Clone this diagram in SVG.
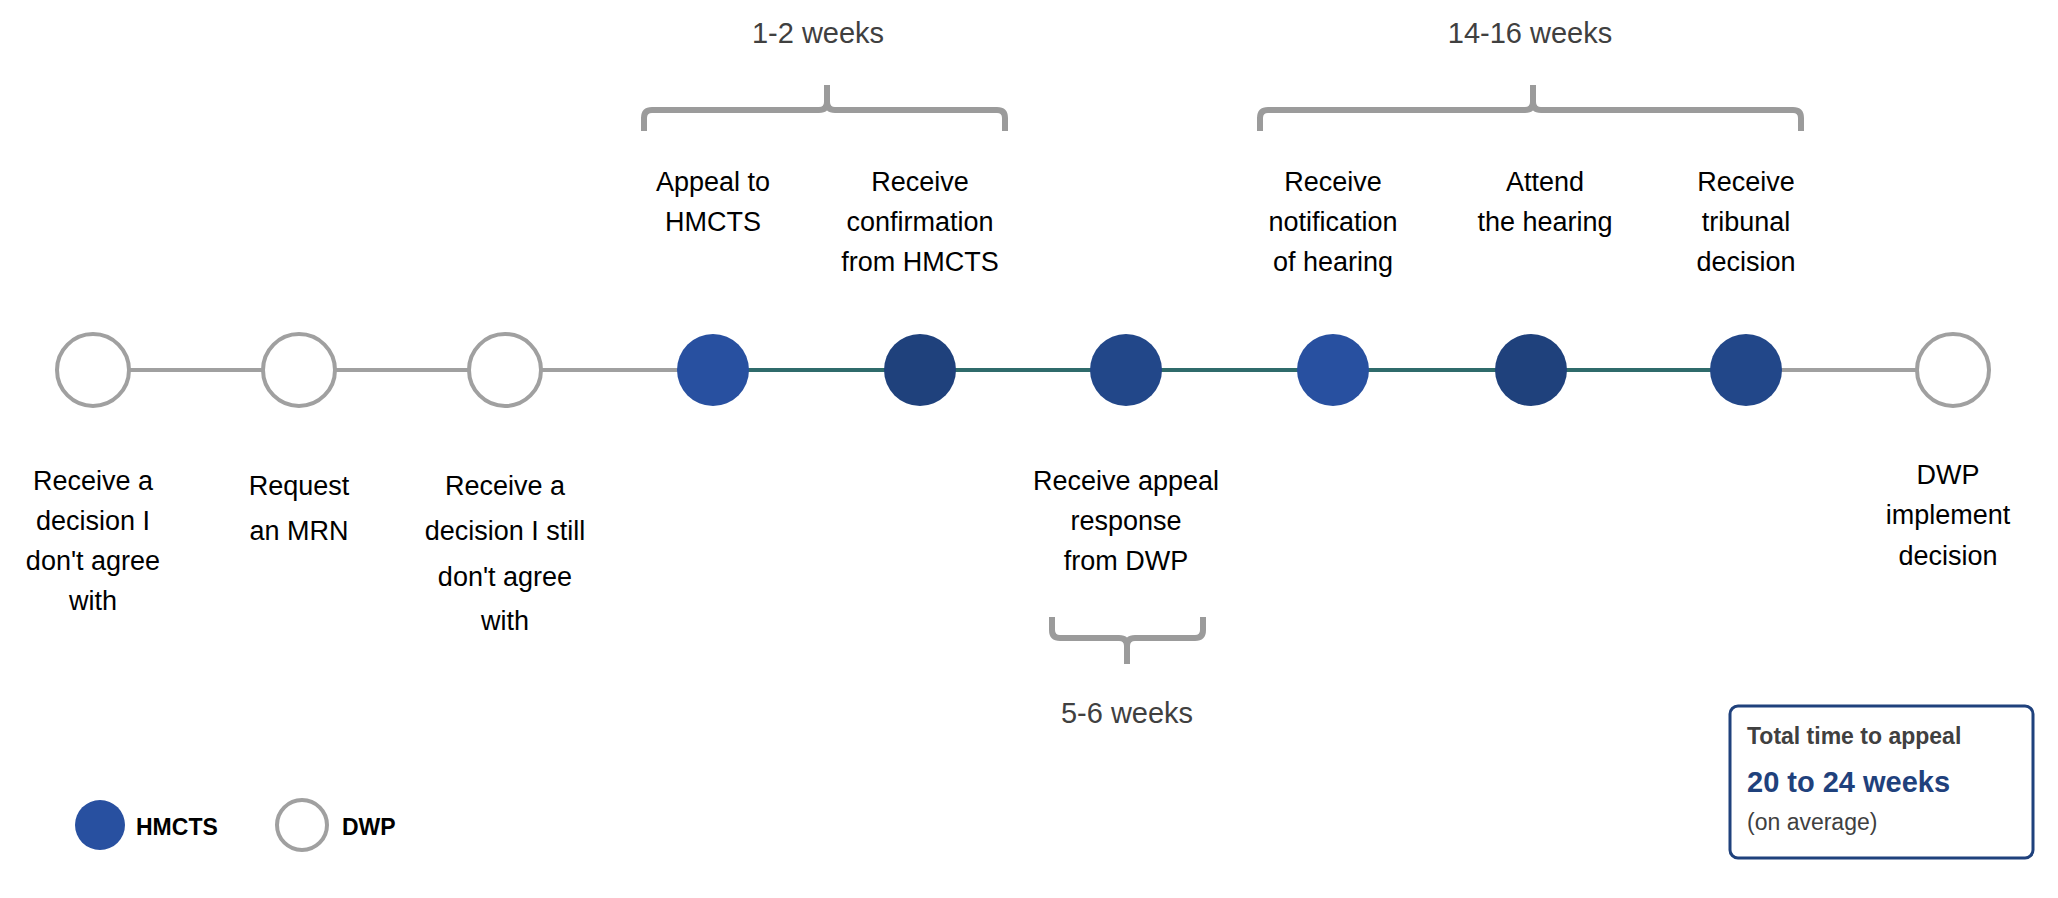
<svg xmlns="http://www.w3.org/2000/svg" width="2058" height="898" viewBox="0 0 2058 898">
<style>
text{font-family:"Liberation Sans",Arial,sans-serif;font-size:27px;fill:#000;text-anchor:middle;dominant-baseline:central}
.wk{fill:#404040;font-size:29px}
.dwp{fill:#fff;stroke:#a0a0a0;stroke-width:4}
.l{fill:#2850a0}.d{fill:#1f417c}.m{fill:#224789}
.br{fill:none;stroke:#9b9b9b;stroke-width:6}
</style>
<g id="connectors">
<line x1="93" y1="370" x2="713" y2="370" stroke="#a0a0a0" stroke-width="4"/>
<line x1="713" y1="370" x2="1746" y2="370" stroke="#2f6b6b" stroke-width="4"/>
<line x1="1746" y1="370" x2="1953" y2="370" stroke="#a0a0a0" stroke-width="4"/>
</g>
<g id="n1"><circle class="dwp" cx="93" cy="370" r="36"/><text x="93" y="481">Receive a</text><text x="93" y="521">decision I</text><text x="93" y="561">don't agree</text><text x="93" y="601">with</text></g>
<g id="n2"><circle class="dwp" cx="299" cy="370" r="36"/><text x="299" y="486">Request</text><text x="299" y="531">an MRN</text></g>
<g id="n3"><circle class="dwp" cx="505" cy="370" r="36"/><text x="505" y="486">Receive a</text><text x="505" y="531">decision I still</text><text x="505" y="577">don't agree</text><text x="505" y="621">with</text></g>
<g id="n4"><circle class="l" cx="713" cy="370" r="36"/><text x="713" y="182">Appeal to</text><text x="713" y="222">HMCTS</text></g>
<g id="n5"><circle class="d" cx="920" cy="370" r="36"/><text x="920" y="182">Receive</text><text x="920" y="222">confirmation</text><text x="920" y="262">from HMCTS</text></g>
<g id="n6"><circle class="m" cx="1126" cy="370" r="36"/><text x="1126" y="481">Receive appeal</text><text x="1126" y="521">response</text><text x="1126" y="561">from DWP</text></g>
<g id="n7"><circle class="l" cx="1333" cy="370" r="36"/><text x="1333" y="182">Receive</text><text x="1333" y="222">notification</text><text x="1333" y="262">of hearing</text></g>
<g id="n8"><circle class="d" cx="1531" cy="370" r="36"/><text x="1545" y="182">Attend</text><text x="1545" y="222">the hearing</text></g>
<g id="n9"><circle class="m" cx="1746" cy="370" r="36"/><text x="1746" y="182">Receive</text><text x="1746" y="222">tribunal</text><text x="1746" y="262">decision</text></g>
<g id="n10"><circle class="dwp" cx="1953" cy="370" r="36"/><text x="1948" y="475">DWP</text><text x="1948" y="515">implement</text><text x="1948" y="556">decision</text></g>
<g id="brackets">
<path class="br" d="M644 131 V118 Q644 110 652 110 H819 Q827 110 827 102 V85 M827 102 Q827 110 835 110 H997 Q1005 110 1005 118 V131"/>
<text class="wk" x="818" y="33">1-2 weeks</text>
<path class="br" d="M1260 131 V118 Q1260 110 1268 110 H1525 Q1533 110 1533 102 V85 M1533 102 Q1533 110 1541 110 H1793 Q1801 110 1801 118 V131"/>
<text class="wk" x="1530" y="33">14-16 weeks</text>
<path class="br" d="M1052 617 V630 Q1052 638 1060 638 H1119 Q1127 638 1127 646 V664 M1127 646 Q1127 638 1135 638 H1195 Q1203 638 1203 630 V617"/>
<text class="wk" x="1127" y="713">5-6 weeks</text>
</g>
<g id="total">
<rect x="1730" y="706" width="303" height="152" rx="8" fill="#fff" stroke="#1f417c" stroke-width="3"/>
<text x="1747" y="736" style="text-anchor:start;font-weight:bold;font-size:23px;fill:#404040">Total time to appeal</text>
<text x="1747" y="782" style="text-anchor:start;font-weight:bold;font-size:29px;fill:#1f417c">20 to 24 weeks</text>
<text x="1747" y="822" style="text-anchor:start;font-size:23px;fill:#404040">(on average)</text>
</g>
<g id="legend">
<circle class="l" cx="100" cy="825" r="25"/><text x="136" y="827" style="text-anchor:start;font-weight:bold;font-size:23px">HMCTS</text>
<circle class="dwp" cx="302" cy="825" r="25"/><text x="342" y="827" style="text-anchor:start;font-weight:bold;font-size:23px">DWP</text>
</g>
</svg>
